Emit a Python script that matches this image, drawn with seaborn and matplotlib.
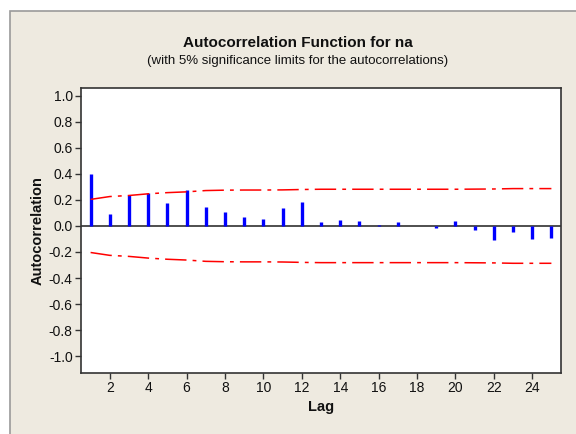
import numpy as np
import pandas as pd
import matplotlib.pyplot as plt
import seaborn as sns
from matplotlib.patches import Rectangle

# Valores
lags = list(range(1, 26))
acf = [0.396, 0.095, 0.235, 0.256, 0.179, 0.274, 0.143, 0.110, 0.069, 0.051,
       0.136, 0.187, 0.034, 0.044, 0.036, 0.004, 0.028, 0.003, -0.018, 0.036,
       -0.033, -0.107, -0.049, -0.100, -0.092]
upper = [0.204, 0.226, 0.234, 0.247, 0.256, 0.262, 0.272, 0.275, 0.276, 0.276,
         0.277, 0.280, 0.282, 0.282, 0.282, 0.282, 0.282, 0.282, 0.282, 0.282,
         0.283, 0.284, 0.287, 0.287, 0.287]
lower = [-v for v in upper]
yticks = [-1.0, -0.8, -0.6, -0.4, -0.2, 0.0, 0.2, 0.4, 0.6, 0.8, 1.0]
xticks = list(range(2, 25, 2))

df = pd.DataFrame({"lag": lags, "acf": acf, "upper": upper, "lower": lower})

sns.set_theme(style="white")
plt.rcParams["font.family"] = ["Liberation Sans", "DejaVu Sans"]

fig = plt.figure(figsize=(5.76, 4.34), dpi=100)
fig.patch.set_facecolor("white")

# Painel bege de fundo
painel = Rectangle((10 / 576, -0.01), 1.0, 1 - 11 / 434 + 0.01,
                   transform=fig.transFigure, facecolor="#EEEAE0",
                   edgecolor="#9a9a9a", linewidth=1.2, zorder=-10)
fig.add_artist(painel)

ax = fig.add_axes([81 / 576, 1 - 373 / 434, 480 / 576, 285 / 434])
ax.set_facecolor("white")

# Barras de autocorrelação
ax.vlines(df["lag"], 0, df["acf"], color="#0000FF", linewidth=2.4, zorder=3)
ax.axhline(0, color="#404040", linewidth=1.3, zorder=2)

# Limites de significância
for col in ["upper", "lower"]:
    sns.lineplot(x="lag", y=col, data=df, ax=ax, color="#FF0000",
                 linewidth=1.1, zorder=4)
for line in ax.get_lines()[1:]:
    line.set_dashes((14, 4, 2.5, 4))

ax.set_xlim(0.5, 25.5)
ax.set_ylim(-1.13, 1.06)
ax.set_xticks(xticks)
ax.set_yticks(yticks)
ax.set_yticklabels([f"{v:.1f}" for v in yticks])
ax.tick_params(axis="both", direction="out", length=4, width=1, color="#333333",
               labelsize=10, pad=2, left=True, bottom=True, labelcolor="#111111")
for s in ax.spines.values():
    s.set_color("#333333")
    s.set_linewidth(1.2)

ax.set_xlabel("Lag", fontsize=10.5, fontweight="bold", labelpad=3, color="#111111")
ax.set_ylabel("Autocorrelation", fontsize=10.5, fontweight="bold", labelpad=3,
              color="#111111")

fig.text(298 / 576, 1 - 43 / 434, "Autocorrelation Function for na",
         ha="center", va="center", fontsize=11, fontweight="bold", color="#111111")
fig.text(298 / 576, 1 - 61 / 434,
         "(with 5% significance limits for the autocorrelations)",
         ha="center", va="center", fontsize=9.5, color="#111111")

plt.savefig("out.png", dpi=100)
